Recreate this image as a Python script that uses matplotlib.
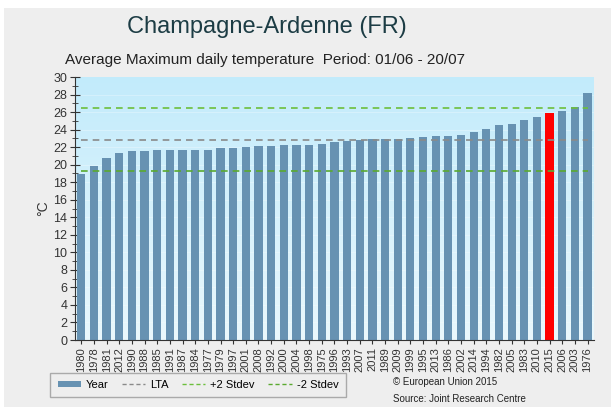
import numpy as np
import matplotlib
matplotlib.use("Agg")
import matplotlib.pyplot as plt
from matplotlib.patches import Rectangle, Patch
from matplotlib.lines import Line2D

plt.rcParams['font.family'] = ['Liberation Sans', 'DejaVu Sans']

years = ["1980", "1978", "1981", "2012", "1990", "1988", "1985", "1991", "1987", "1984",
         "1977", "1979", "1997", "2001", "2008", "1992", "2000", "2004", "1998", "1975",
         "1996", "1993", "2007", "2011", "1989", "2009", "1999", "1995", "2013", "1986",
         "2002", "2014", "1994", "1982", "2005", "1983", "2010", "2015", "2006", "2003",
         "1976"]
temps = [18.9, 19.9, 20.75, 21.3, 21.6, 21.6, 21.62, 21.66, 21.66, 21.7,
         21.7, 21.85, 21.93, 21.96, 22.12, 22.15, 22.23, 22.27, 22.3, 22.35,
         22.6, 22.7, 22.84, 22.88, 22.92, 22.95, 23.03, 23.1, 23.22, 23.26,
         23.33, 23.68, 24.06, 24.55, 24.67, 25.05, 25.39, 25.92, 26.08, 26.61,
         28.13]
highlight = "2015"
lta = 22.84
plus2 = 26.42
minus2 = 19.3

fig = plt.figure(figsize=(6.11, 4.07), dpi=100)
fig.patch.set_facecolor("white")
fig.patches.append(Rectangle((4 / 611, 0), 1, 1 - 8 / 407, transform=fig.transFigure,
                             facecolor="#eeeeee", edgecolor="none", zorder=-10))

ax = fig.add_axes([0.1227, 0.1646, 0.972 - 0.1227, 0.8108 - 0.1646])
ax.set_facecolor("none")

# gradient background
grad = np.linspace(0, 1, 256).reshape(-1, 1)
cmap = matplotlib.colors.LinearSegmentedColormap.from_list("bg", ["#eaf8fd", "#c2ebfb"])
ax.imshow(grad, extent=[-0.5, 40.5, 0, 30], origin="lower", aspect="auto", cmap=cmap, zorder=0)

x = np.arange(len(years))
colors = ["#ff0000" if y == highlight else "#6792b2" for y in years]
ax.bar(x, temps, width=0.65, color=colors, zorder=2)

for yv in range(2, 30, 2):
    ax.axhline(yv, color="white", lw=0.5, alpha=0.4, zorder=1)

ax.hlines(lta, 0, len(years) - 1, colors="#8a8a8a", linestyles=(0, (4, 3)), lw=1.2, zorder=3)
ax.hlines(plus2, 0, len(years) - 1, colors="#6cbf3c", linestyles=(0, (4, 3)), lw=1.2, zorder=3)
ax.hlines(minus2, 0, len(years) - 1, colors="#5aaa30", linestyles=(0, (4, 3)), lw=1.2, zorder=3)

ax.set_xlim(-0.5, 40.5)
ax.set_ylim(0, 30)
ax.set_yticks(range(0, 31, 2))
ax.set_yticks(range(0, 31, 1), minor=True)
ax.set_xticks(x)
ax.set_xticklabels(years, rotation=90, fontsize=8, color="#333333")
ax.tick_params(axis="y", which="major", direction="inout", length=7, labelsize=9,
               labelcolor="#333333", color="#333333", pad=2)
ax.tick_params(axis="y", which="minor", direction="inout", length=4, color="#333333")
ax.tick_params(axis="x", direction="out", length=3, color="#333333", pad=2)
for s in ["top", "right"]:
    ax.spines[s].set_visible(False)
for s in ["left", "bottom"]:
    ax.spines[s].set_color("#333333")
ax.set_ylabel("°C", fontsize=10, color="#333333", labelpad=2)

fig.text(0.437, 0.933, "Champagne-Ardenne (FR)", ha="center", va="center",
         fontsize=17, color="#1c3c44")
fig.text(0.433, 0.853, "Average Maximum daily temperature  Period: 01/06 - 20/07",
         ha="center", va="center", fontsize=11, color="#222222")

handles = [Patch(facecolor="#6792b2"),
           Line2D([], [], color="#8a8a8a", ls=(0, (3, 2)), lw=1),
           Line2D([], [], color="#6cbf3c", ls=(0, (3, 2)), lw=1),
           Line2D([], [], color="#5aaa30", ls=(0, (3, 2)), lw=1)]
leg = fig.legend(handles, ["Year", "LTA", "+2 Stdev", "-2 Stdev"], loc="center",
                 bbox_to_anchor=(0.324, 0.054), ncol=4, frameon=True, fontsize=8,
                 fancybox=False, edgecolor="#999999", facecolor="#eeeeee",
                 handlelength=2.1, handleheight=0.5, columnspacing=1.2, handletextpad=0.45,
                 borderpad=0.65)
leg.get_frame().set_linewidth(1)

fig.text(0.643, 0.062, "© European Union 2015", fontsize=7,
         color="#222222", va="center")
fig.text(0.643, 0.020, "Source: Joint Research Centre", fontsize=7,
         color="#222222", va="center")

fig.savefig("out.png", dpi=100)
